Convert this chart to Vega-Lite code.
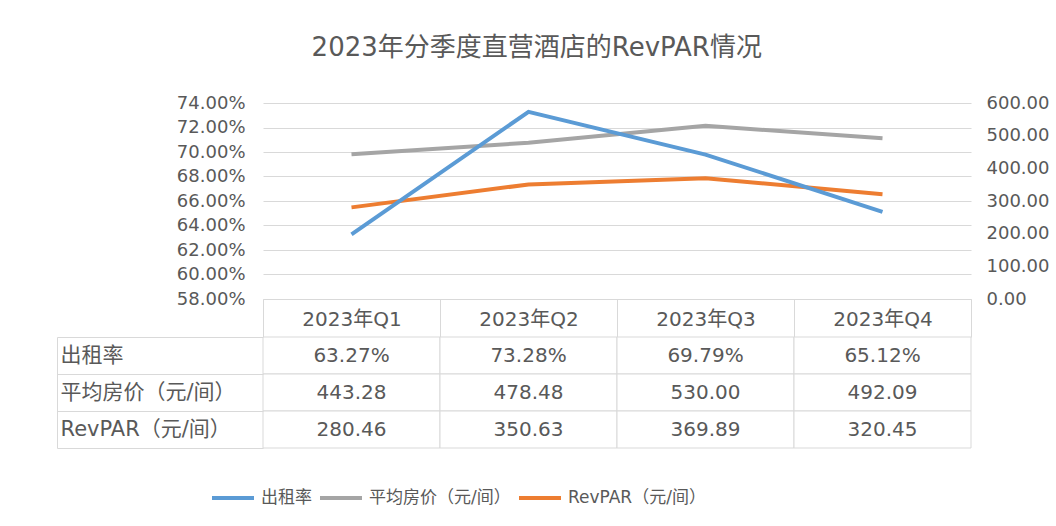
{
  "$schema": "https://vega.github.io/schema/vega-lite/v6.json",
  "background": "white",
  "padding": {"left": 56, "top": 35, "right": 5, "bottom": 5},
  "title": {"text": "2023年分季度直营酒店的RevPAR情况", "fontSize": 26, "fontWeight": "normal", "color": "#595959", "anchor": "middle", "offset": 33, "dx": -16},
  "data": {"values": [
    {"quarter": "2023年Q1", "metric": "出租率", "value": 0.6327},
    {"quarter": "2023年Q2", "metric": "出租率", "value": 0.7328},
    {"quarter": "2023年Q3", "metric": "出租率", "value": 0.6979},
    {"quarter": "2023年Q4", "metric": "出租率", "value": 0.6512},
    {"quarter": "2023年Q1", "metric": "平均房价（元/间）", "value": 443.28},
    {"quarter": "2023年Q2", "metric": "平均房价（元/间）", "value": 478.48},
    {"quarter": "2023年Q3", "metric": "平均房价（元/间）", "value": 530.00},
    {"quarter": "2023年Q4", "metric": "平均房价（元/间）", "value": 492.09},
    {"quarter": "2023年Q1", "metric": "RevPAR（元/间）", "value": 280.46},
    {"quarter": "2023年Q2", "metric": "RevPAR（元/间）", "value": 350.63},
    {"quarter": "2023年Q3", "metric": "RevPAR（元/间）", "value": 369.89},
    {"quarter": "2023年Q4", "metric": "RevPAR（元/间）", "value": 320.45}
  ]},
  "bounds": "flush",
  "spacing": 38,
  "vconcat": [
    {
      "width": 708,
      "height": 196,
      "encoding": {
        "x": {"field": "quarter", "type": "nominal", "sort": ["2023年Q1", "2023年Q2", "2023年Q3", "2023年Q4"],
          "scale": {"type": "band", "paddingInner": 0, "paddingOuter": 0},
          "axis": {"title": null, "domain": true, "domainColor": "#d9d9d9", "ticks": true, "tickBand": "extent", "tickSize": 38, "tickColor": "#d9d9d9", "labelFontSize": 20, "labelColor": "#595959", "labelBaseline": "middle", "labelPadding": -18, "labelAngle": 0, "grid": false}},
        "color": {"field": "metric", "type": "nominal",
          "scale": {"domain": ["出租率", "平均房价（元/间）", "RevPAR（元/间）"], "range": ["#5B9BD5", "#A5A5A5", "#ED7D31"]},
          "legend": {"title": null, "orient": "none", "legendX": -53, "legendY": 372, "direction": "horizontal", "symbolType": "stroke", "symbolSize": 1764, "symbolStrokeWidth": 4, "labelFontSize": 17, "labelColor": "#595959", "labelOffset": 5, "columnPadding": 0}}
      },
      "layer": [
        {
          "transform": [{"filter": "datum.metric !== '出租率'"}],
          "mark": {"type": "line", "strokeWidth": 4},
          "encoding": {
            "y": {"field": "value", "type": "quantitative", "scale": {"domain": [0, 600], "nice": false, "zero": true},
              "axis": {"orient": "right", "title": null, "values": [0, 100, 200, 300, 400, 500, 600], "format": ".2f", "grid": false, "domain": false, "ticks": false, "labelPadding": 15, "labelFontSize": 18, "labelColor": "#595959"}}
          }
        },
        {
          "transform": [{"filter": "datum.metric === '出租率'"}],
          "mark": {"type": "line", "strokeWidth": 4},
          "encoding": {
            "y": {"field": "value", "type": "quantitative", "scale": {"domain": [0.58, 0.74], "nice": false, "zero": false},
              "axis": {"orient": "left", "title": null, "values": [0.58, 0.6, 0.62, 0.64, 0.66, 0.68, 0.7, 0.72, 0.74], "format": ".2%", "grid": true, "gridColor": "#d9d9d9", "domain": false, "ticks": false, "labelPadding": 18, "labelFontSize": 18, "labelColor": "#595959"}}
          }
        }
      ],
      "resolve": {"scale": {"y": "independent"}, "axis": {"y": "independent"}}
    },
    {
      "width": 708,
      "height": 111,
      "encoding": {
        "x": {"field": "quarter", "type": "nominal", "sort": ["2023年Q1", "2023年Q2", "2023年Q3", "2023年Q4"],
          "scale": {"type": "band", "paddingInner": 0, "paddingOuter": 0}, "axis": null},
        "y": {"field": "metric", "type": "nominal", "sort": ["出租率", "平均房价（元/间）", "RevPAR（元/间）"],
          "scale": {"type": "band", "paddingInner": 0, "paddingOuter": 0},
          "axis": {"title": null, "orient": "left", "offset": 206, "domain": true, "domainColor": "#d9d9d9", "ticks": true, "tickBand": "extent", "tickSize": -206, "tickColor": "#d9d9d9", "labelAlign": "left", "labelPadding": 203, "labelFontSize": 21, "labelColor": "#595959", "grid": false}}
      },
      "layer": [
        {"mark": {"type": "rect", "fill": "white", "stroke": "#d9d9d9", "strokeWidth": 1}},
        {
          "transform": [{"filter": "datum.metric === '出租率'"}],
          "mark": {"type": "text", "fontSize": 20, "color": "#595959"},
          "encoding": {"text": {"field": "value", "type": "quantitative", "format": ".2%"}}
        },
        {
          "transform": [{"filter": "datum.metric !== '出租率'"}],
          "mark": {"type": "text", "fontSize": 20, "color": "#595959"},
          "encoding": {"text": {"field": "value", "type": "quantitative", "format": ".2f"}}
        }
      ]
    }
  ],
  "config": {
    "font": "DejaVu Sans, Noto Sans CJK SC",
    "view": {"stroke": null}
  }
}
